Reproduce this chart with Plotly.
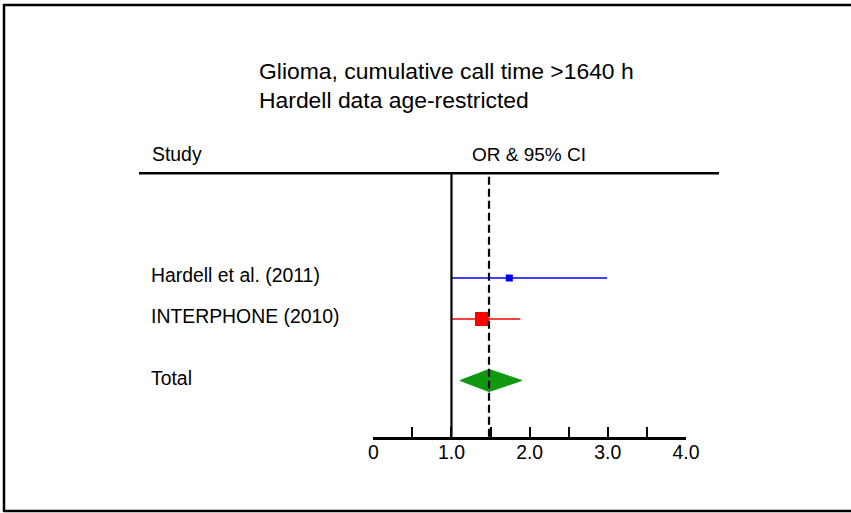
import plotly.graph_objects as go

W, H = 851, 513

title_lines = ["Glioma, cumulative call time >1640 h", "Hardell data age-restricted"]
col_study = "Study"
col_or = "OR & 95% CI"

studies = ["Hardell et al. (2011)", "INTERPHONE (2010)"]
study_rows = [0, 1]
or_est = [1.74, 1.39]
ci_lo = [0.99, 0.99]
ci_hi = [2.99, 1.88]
study_colors = ["#0000ff", "#ff0000"]
marker_sizes = [7, 14]

total_label = "Total"
total_row = 2.5
total_est = 1.48
total_lo = 1.11
total_hi = 1.90
null_value = 1.0

tick_vals = [0, 0.5, 1.0, 1.5, 2.0, 2.5, 3.0, 3.5, 4.0]
tick_text = ["0", "", "1.0", "", "2.0", "", "3.0", "", "4.0"]

FONT = "Liberation Sans, Arial, sans-serif"
FS = 19.4
FS_TITLE = 22.9

def px_y(py):
    return 1 - py / H

def px_x(px):
    return px / W

fig = go.Figure()

# CI lines and squares
for name, r, e, lo, hi, c, s in zip(studies, study_rows, or_est, ci_lo, ci_hi, study_colors, marker_sizes):
    fig.add_trace(go.Scatter(x=[lo, hi], y=[r, r], mode="lines",
                             line=dict(color=c, width=1.5), hoverinfo="skip", showlegend=False))
    fig.add_trace(go.Scatter(x=[e], y=[r], mode="markers",
                             marker=dict(symbol="square", size=s, color=c, line=dict(width=0)),
                             name=name, showlegend=False))

# pooled diamond
half_h = 0.27
fig.add_trace(go.Scatter(
    x=[total_lo, total_est, total_hi, total_est, total_lo],
    y=[total_row, total_row - half_h, total_row, total_row + half_h, total_row],
    mode="lines", fill="toself", fillcolor="#109810",
    line=dict(color="#109810", width=1), showlegend=False, hoverinfo="skip"))

shapes = []
# null line and pooled dashed line
shapes.append(dict(type="line", xref="x", yref="y domain", x0=null_value, x1=null_value, y0=0, y1=1,
                   line=dict(color="black", width=2.2)))
shapes.append(dict(type="line", xref="x", yref="y domain", x0=total_est, x1=total_est, y0=0, y1=1,
                   line=dict(color="black", width=2.2, dash="8px,4px")))
# header rule
shapes.append(dict(type="line", xref="paper", yref="paper", x0=px_x(139), x1=px_x(719),
                   y0=px_y(173.3), y1=px_y(173.3), line=dict(color="black", width=2.5)))
# frame (top, left, bottom)
shapes.append(dict(type="line", xref="paper", yref="paper", x0=px_x(3.5), x1=1.0,
                   y0=px_y(5), y1=px_y(5), line=dict(color="black", width=2.5)))
shapes.append(dict(type="line", xref="paper", yref="paper", x0=px_x(4), x1=px_x(4),
                   y0=px_y(4), y1=px_y(512), line=dict(color="black", width=2.5)))
shapes.append(dict(type="line", xref="paper", yref="paper", x0=px_x(3.5), x1=1.0,
                   y0=px_y(511), y1=px_y(511), line=dict(color="black", width=2.5)))

annotations = []
title_y = [71, 100]
for t, ty in zip(title_lines, title_y):
    annotations.append(dict(text=t, xref="paper", yref="paper", x=px_x(257), y=px_y(ty),
                            xanchor="left", yanchor="middle", showarrow=False,
                            font=dict(family=FONT, size=FS_TITLE, color="black")))
annotations.append(dict(text=col_study, xref="paper", yref="paper", x=px_x(150), y=px_y(154),
                        xanchor="left", yanchor="middle", showarrow=False,
                        font=dict(family=FONT, size=FS, color="black")))
annotations.append(dict(text=col_or, xref="paper", yref="paper", x=px_x(528.5), y=px_y(154),
                        xanchor="center", yanchor="middle", showarrow=False,
                        font=dict(family=FONT, size=19, color="black")))
for name, r in zip(studies + [total_label], study_rows + [total_row]):
    annotations.append(dict(text=name, xref="paper", yref="y", x=px_x(149), y=r, yshift=3,
                            xanchor="left", yanchor="middle", showarrow=False,
                            font=dict(family=FONT, size=FS, color="black")))

# axis geometry: x=0 at 373.3px, x=4 at 686px; axis line at 436.7px, top at 173.3px
row0_px, row_px = 278.0, 41.0
y_bottom_px, y_top_px = 436.7, 173.3

fig.update_layout(
    width=W, height=H, autosize=False,
    margin=dict(l=0, r=0, t=0, b=0, pad=0, autoexpand=False),
    paper_bgcolor="white", plot_bgcolor="rgba(0,0,0,0)",
    shapes=shapes, annotations=annotations,
    showlegend=False,
    xaxis=dict(domain=[px_x(373.3), px_x(686)], range=[0, 4],
               tickmode="array", tickvals=tick_vals, ticktext=tick_text,
               ticks="inside", ticklen=10, tickwidth=2, tickcolor="black",
               showline=True, linecolor="black", linewidth=2.5,
               showgrid=False, zeroline=False, ticklabelstandoff=-4,
               automargin=False,
               tickfont=dict(family=FONT, size=FS, color="black")),
    yaxis=dict(domain=[px_y(y_bottom_px), px_y(y_top_px)],
               range=[(y_bottom_px - row0_px) / row_px, (y_top_px - row0_px) / row_px],
               visible=False, showgrid=False, zeroline=False, automargin=False),
)

fig.write_html("out.html",
               config={"responsive": False, "displayModeBar": False},
               post_script="document.body.style.margin='0px';document.body.style.overflow='hidden';")
